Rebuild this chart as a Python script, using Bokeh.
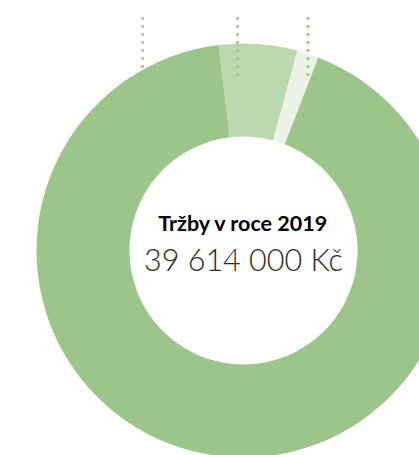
import numpy as np
from bokeh.plotting import figure
from bokeh.models import Range1d
from bokeh.core.properties import value
from bokeh.embed import file_html
from bokeh.resources import INLINE

# data (thousand Kč)
segments = ["Segment B", "Segment C", "Segment A"]
values = [2420, 670, 36524]
colors = ["#bcd8b0", "#ebf3e7", "#9dc48b"]
title = "Tržby v roce 2019"
total_label = "39 614 000 Kč"

W, H = 419, 455
p = figure(width=W, height=H, output_backend="svg", toolbar_location=None,
           x_range=Range1d(0, W), y_range=Range1d(0, H), min_border=0)
p.axis.visible = False
p.grid.visible = False
p.outline_line_color = None
p.background_fill_color = "white"
p.border_fill_color = "white"

cx, cy = 243, H - 250
r_in, r_out = 114, 207
start = np.deg2rad(96.9)
vals = np.array(values, dtype=float)
frac = vals / vals.sum()
cum = np.concatenate([[0], np.cumsum(frac)])
starts = start - cum[:-1] * 2 * np.pi
ends = start - cum[1:] * 2 * np.pi
p.annular_wedge(x=cx, y=cy, inner_radius=r_in, outer_radius=r_out,
                start_angle=starts, end_angle=ends, direction="clock",
                fill_color=colors, line_color=None)

# dotted leader lines (labels above are cut off)
leader_x = [142, 237, 307.5]
leader_bottom = [67, 74, 74]
for lx, lb in zip(leader_x, leader_bottom):
    ys = H - np.arange(18, lb + 1, 8)
    p.scatter(x=[lx] * len(ys), y=ys, size=3.2, fill_color="#9dc48b", line_color=None)

p.text(x=[cx], y=[H - 222], text=[title], text_font=value("Lato"), text_font_style="bold",
       text_font_size="21.5px", text_align="center", text_baseline="middle", text_color="#000000")
p.text(x=[cx], y=[H - 258], text=[total_label], text_font=value("Lato Light"),
       text_font_size="30.5px", text_align="center", text_baseline="middle", text_color="#2a2a2a")

open("out.html", "w").write(file_html(p, INLINE))
